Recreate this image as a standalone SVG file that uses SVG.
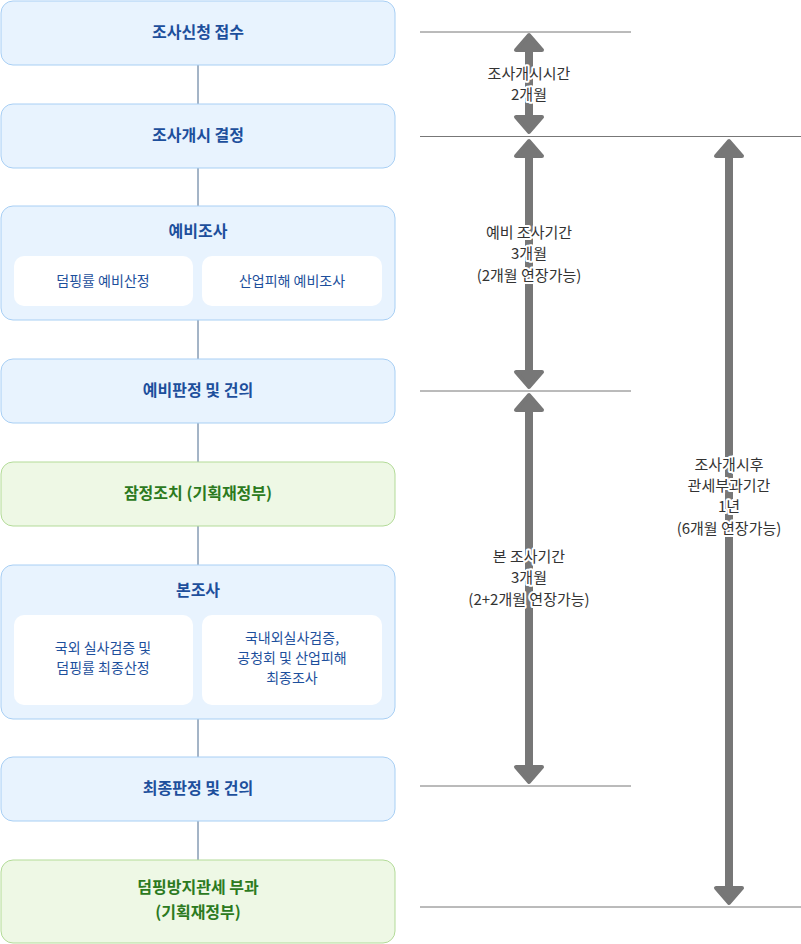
<svg xmlns="http://www.w3.org/2000/svg" width="801" height="944" viewBox="0 0 801 944">
<style>
text{font-family:"Noto Sans CJK KR","Noto Sans",sans-serif;text-anchor:middle}
.b{fill:#e8f3fe;stroke:#a8cff4;stroke-width:1}
.g{fill:#eef8e5;stroke:#b3db98;stroke-width:1}
.s{fill:#fff}
.bt{fill:#1d4f9c;font-size:16px;font-weight:bold}
.gt{fill:#2c7a1e;font-size:16px;font-weight:bold}
.st{fill:#1d4f9c;font-size:14px}
.ln{stroke:#777;stroke-width:1}
.con{stroke:#4b6b8f;stroke-width:1}
.ar{stroke:#777;stroke-width:8;fill:none;stroke-linecap:butt}
.ah{fill:#777;stroke:#777;stroke-width:4;stroke-linejoin:round}
.lt{fill:#333;font-size:15px;stroke:#fff;stroke-width:4;paint-order:stroke;stroke-linejoin:round}
</style>
<g id="connectors">
<line class="con" x1="198" y1="65" x2="198" y2="104"/>
<line class="con" x1="198" y1="168" x2="198" y2="206"/>
<line class="con" x1="198" y1="320" x2="198" y2="359"/>
<line class="con" x1="198" y1="423" x2="198" y2="462"/>
<line class="con" x1="198" y1="526" x2="198" y2="565"/>
<line class="con" x1="198" y1="719" x2="198" y2="757"/>
<line class="con" x1="198" y1="821" x2="198" y2="860"/>
</g>
<g id="n1"><rect class="b" x="1" y="1" width="394" height="64" rx="12"/><text class="bt" x="198" y="38">조사신청 접수</text></g>
<g id="n2"><rect class="b" x="1" y="104" width="394" height="64" rx="12"/><text class="bt" x="198" y="141">조사개시 결정</text></g>
<g id="n3"><rect class="b" x="1" y="206" width="394" height="114" rx="12"/><text class="bt" x="198" y="237">예비조사</text>
<rect class="s" x="14" y="256" width="179" height="50" rx="10"/><text class="st" x="103" y="286">덤핑률 예비산정</text>
<rect class="s" x="202" y="256" width="180" height="50" rx="10"/><text class="st" x="292" y="286">산업피해 예비조사</text></g>
<g id="n4"><rect class="b" x="1" y="359" width="394" height="64" rx="12"/><text class="bt" x="198" y="396">예비판정 및 건의</text></g>
<g id="n5"><rect class="g" x="1" y="462" width="394" height="64" rx="12"/><text class="gt" x="198" y="499">잠정조치 (기획재정부)</text></g>
<g id="n6"><rect class="b" x="1" y="565" width="394" height="154" rx="12"/><text class="bt" x="198" y="596">본조사</text>
<rect class="s" x="14" y="615" width="179" height="90" rx="10"/><text class="st" x="103" y="653">국외 실사검증 및</text><text class="st" x="103" y="673">덤핑률 최종산정</text>
<rect class="s" x="202" y="615" width="180" height="90" rx="10"/><text class="st" x="292" y="643">국내외실사검증,</text><text class="st" x="292" y="663">공청회 및 산업피해</text><text class="st" x="292" y="683">최종조사</text></g>
<g id="n7"><rect class="b" x="1" y="757" width="394" height="64" rx="12"/><text class="bt" x="198" y="794">최종판정 및 건의</text></g>
<g id="n8"><rect class="g" x="1" y="860" width="394" height="83" rx="12"/><text class="gt" x="198" y="893">덤핑방지관세 부과</text><text class="gt" x="198" y="918">(기획재정부)</text></g>
<g id="timeline">
<line class="ln" x1="420" y1="32" x2="631" y2="32"/>
<line class="ln" x1="420" y1="136.5" x2="801" y2="136.5"/>
<line class="ln" x1="420" y1="391" x2="631" y2="391"/>
<line class="ln" x1="420" y1="786" x2="631" y2="786"/>
<line class="ln" x1="420" y1="907" x2="801" y2="907"/>
<line class="ar" x1="529" y1="45" x2="529" y2="122"/>
<polygon class="ah" points="529,35 516,50 542,50"/><polygon class="ah" points="529,132 516,117 542,117"/>
<line class="ar" x1="529" y1="150" x2="529" y2="378"/>
<polygon class="ah" points="529,141 516,156 542,156"/><polygon class="ah" points="529,387 516,372 542,372"/>
<line class="ar" x1="529" y1="404" x2="529" y2="772"/>
<polygon class="ah" points="529,395 516,410 542,410"/><polygon class="ah" points="529,782 516,767 542,767"/>
<line class="ar" x1="729" y1="150" x2="729" y2="893"/>
<polygon class="ah" points="729,141 716,156 742,156"/><polygon class="ah" points="729,903 716,888 742,888"/>
<text class="lt" x="529" y="79">조사개시시간</text><text class="lt" x="529" y="100">2개월</text>
<text class="lt" x="529" y="238">예비 조사기간</text><text class="lt" x="529" y="259">3개월</text><text class="lt" x="529" y="281">(2개월 연장가능)</text>
<text class="lt" x="529" y="562">본 조사기간</text><text class="lt" x="529" y="583">3개월</text><text class="lt" x="529" y="605">(2+2개월 연장가능)</text>
<text class="lt" x="729" y="470">조사개시후</text><text class="lt" x="729" y="491">관세부과기간</text><text class="lt" x="729" y="512">1년</text><text class="lt" x="729" y="534">(6개월 연장가능)</text>
</g>
</svg>
